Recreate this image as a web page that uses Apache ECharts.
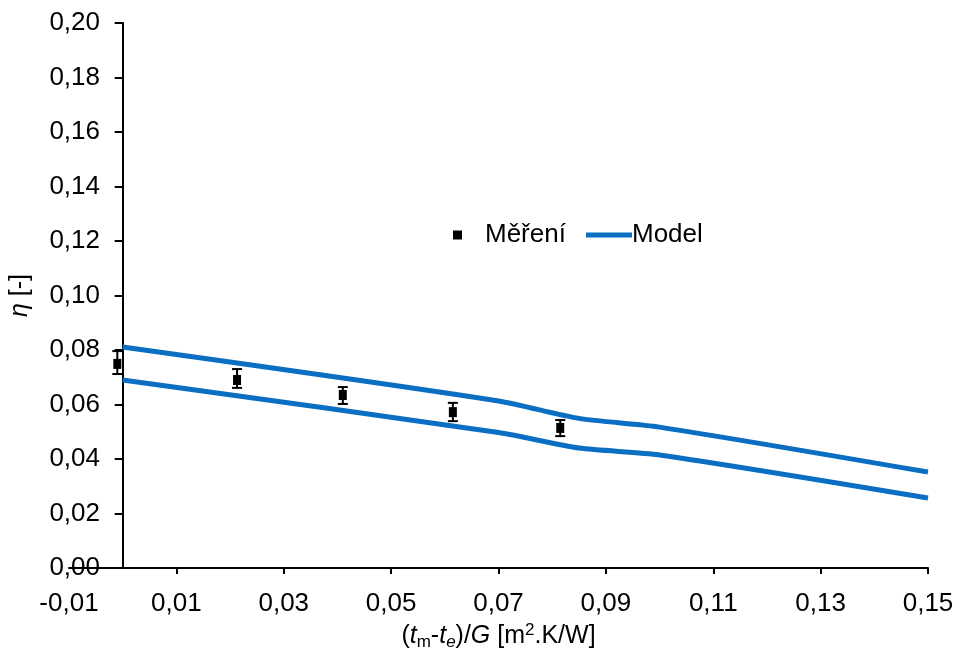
<!DOCTYPE html>
<html><head><meta charset="utf-8">
<script src="https://cdn.jsdelivr.net/npm/echarts@6/dist/echarts.min.js"></script>
<style>html,body{margin:0;padding:0;background:#fff}#c{width:959px;height:655px}</style>
</head><body><div id="c"></div>
<script>
// ---- data ----
const xTickValues = [0.01, 0.03, 0.05, 0.07, 0.09, 0.11, 0.13, 0.15];
const measX = [-0.001, 0.0213, 0.041, 0.0615, 0.0815];
const measY = [0.0749, 0.0690, 0.0635, 0.0572, 0.0514];
const measLow = [0.0712, 0.0661, 0.0602, 0.0539, 0.0484];
const measHigh = [0.0796, 0.0730, 0.0664, 0.0606, 0.0543];
const modelX = [0, 0.07, 0.085, 0.10, 0.15];
const modelUpper = [0.0811, 0.0613, 0.0549, 0.0517, 0.0352];
const modelLower = [0.0690, 0.0497, 0.0440, 0.0415, 0.0257];

const FONT = 'Liberation Sans, Arial, sans-serif';
const BLUE = '#0a6fc2';
const fmt = v => v.toFixed(2).replace('.', ',').replace('-0,00', '0,00');

const chart = echarts.init(document.getElementById('c'), null, {renderer: 'canvas'});
const pts = measX.map((x, i) => [x, measY[i]]);
const errs = measX.map((x, i) => [x, measLow[i], measHigh[i]]);
const up = modelX.map((x, i) => [x, modelUpper[i]]);
const lo = modelX.map((x, i) => [x, modelLower[i]]);

chart.setOption({
  animation: false,
  textStyle: {fontFamily: FONT},
  grid: {left: 69, right: 31, top: 23, bottom: 87, containLabel: false, outerBoundsMode: 'none'},
  legend: [
    {left: 448, top: 217, data: [{name: 'Měření', icon: 'rect'}], itemWidth: 9, itemHeight: 9,
     textStyle: {fontSize: 26, color: '#000', fontFamily: FONT, padding: [0, 0, 0, 18]}},
    {left: 581, top: 217, data: [{name: 'Model', icon: 'rect'}], itemWidth: 46, itemHeight: 5,
     textStyle: {fontSize: 26, color: '#000', fontFamily: FONT, padding: [0, 0, 0, -5]}}
  ],
  xAxis: {
    type: 'value', min: -0.01, max: 0.15, interval: 0.02,
    axisLine: {show: true, onZero: false, lineStyle: {color: '#000', width: 2}},
    axisTick: {show: true, length: 6, customValues: xTickValues, lineStyle: {color: '#000', width: 2}},
    axisLabel: {fontSize: 26, color: '#000', margin: 23, formatter: fmt, fontFamily: FONT},
    splitLine: {show: false},
    name: '{p|(}{it|t}{sub|m}{p|-}{it|t}{subi|e}{p|)/}{it|G}{p| [m}{sup|2}{p|.K/W]}',
    nameLocation: 'middle', nameGap: 53,
    nameTextStyle: {
      color: '#000', fontSize: 25, fontFamily: FONT,
      rich: {
        p: {fontSize: 25, color: '#000', fontFamily: FONT},
        it: {fontSize: 25, color: '#000', fontStyle: 'italic', fontFamily: FONT},
        sub: {fontSize: 17, color: '#000', fontFamily: FONT, padding: [12, 0, 0, 0]},
        subi: {fontSize: 17, color: '#000', fontStyle: 'italic', fontFamily: FONT, padding: [12, 0, 0, 0]},
        sup: {fontSize: 17, color: '#000', fontFamily: FONT, padding: [0, 0, 12, 0]}
      }
    }
  },
  yAxis: {
    type: 'value', min: 0, max: 0.2, interval: 0.02,
    axisLine: {show: true, onZero: true, lineStyle: {color: '#000', width: 2}},
    axisTick: {show: true, length: 8, lineStyle: {color: '#000', width: 2}},
    axisLabel: {fontSize: 26, color: '#000', margin: -31, formatter: fmt, fontFamily: FONT},
    splitLine: {show: false},
    name: '{it|η} [-]', nameLocation: 'middle', nameGap: 36,
    nameTextStyle: {
      color: '#000', fontSize: 25, fontFamily: FONT,
      rich: {it: {fontSize: 25, fontStyle: 'italic', color: '#000', fontFamily: FONT}}
    }
  },
  series: [
    {
      name: 'Model', type: 'line', data: up, showSymbol: false, smooth: 0.25,
      lineStyle: {color: BLUE, width: 5}, itemStyle: {color: BLUE}, z: 3
    },
    {
      name: 'Model', type: 'line', data: lo, showSymbol: false, smooth: 0.25,
      lineStyle: {color: BLUE, width: 5}, itemStyle: {color: BLUE}, z: 3
    },
    {
      type: 'custom', data: errs, z: 4, silent: true,
      renderItem: (params, api) => {
        const x = api.value(0);
        const p1 = api.coord([x, api.value(1)]);
        const p2 = api.coord([x, api.value(2)]);
        const w = 5;
        const st = {stroke: '#000', lineWidth: 2};
        return {type: 'group', children: [
          {type: 'line', shape: {x1: p1[0], y1: p1[1], x2: p2[0], y2: p2[1]}, style: st},
          {type: 'line', shape: {x1: p1[0] - w, y1: p1[1], x2: p1[0] + w, y2: p1[1]}, style: st},
          {type: 'line', shape: {x1: p2[0] - w, y1: p2[1], x2: p2[0] + w, y2: p2[1]}, style: st}
        ]};
      }
    },
    {
      name: 'Měření', type: 'scatter', data: pts, symbol: 'rect', symbolSize: [8, 10],
      itemStyle: {color: '#000', opacity: 1}, z: 5
    }
  ]
});
</script>
</body></html>
